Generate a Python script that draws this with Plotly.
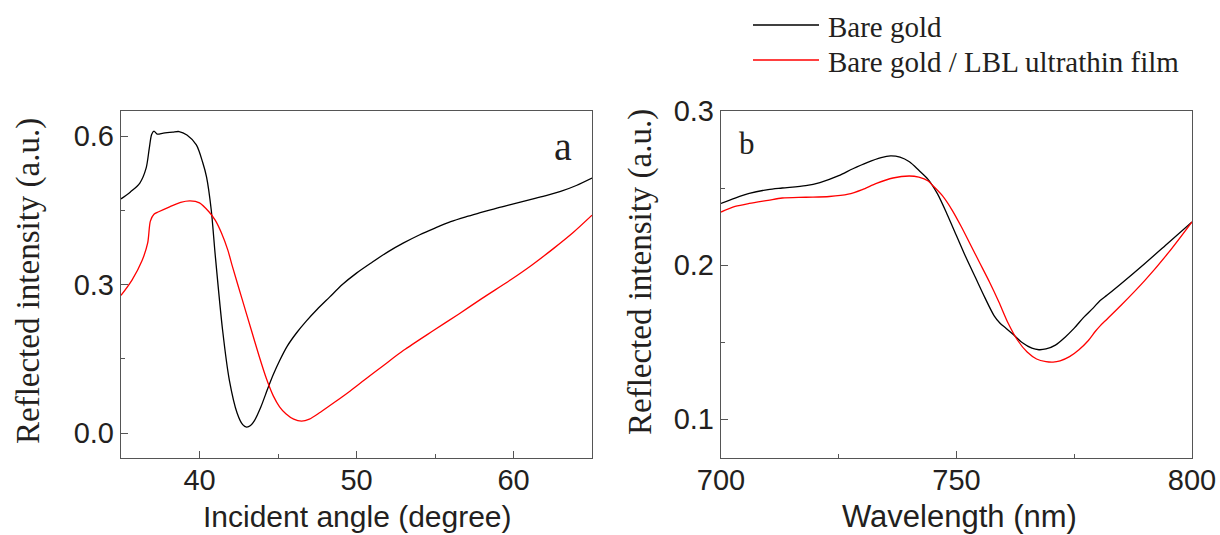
import plotly.graph_objects as go
from plotly.subplots import make_subplots

# Panel a: reflected intensity vs incident angle (degree)
angle_bare = [35.0, 35.6, 36.2, 36.6, 36.8, 36.95, 37.1, 37.3, 37.7, 38.3, 38.7, 39.2,
              39.8, 40.2, 40.45, 40.75, 41.0, 41.47, 41.9, 42.4, 42.75, 43.0,
              43.25, 43.5, 43.9, 44.35, 44.7, 45.1, 45.6, 46.2, 46.8, 47.5, 48.3, 49.1,
              50.0, 51.0, 52.0, 53.0, 54.0, 55.0, 56.0, 57.0, 58.0, 59.0, 60.0, 61.0,
              62.0, 63.0, 64.0, 65.0]
refl_bare = [0.473, 0.487, 0.505, 0.535, 0.575, 0.603, 0.610, 0.604, 0.606, 0.608, 0.609, 0.602,
             0.582, 0.547, 0.517, 0.450, 0.360, 0.208, 0.107, 0.040, 0.017, 0.012,
             0.015, 0.025, 0.052, 0.090, 0.118, 0.146, 0.176, 0.203, 0.226, 0.250, 0.275, 0.300,
             0.323, 0.345, 0.366, 0.384, 0.400, 0.414, 0.427, 0.437, 0.446, 0.455, 0.463, 0.471,
             0.479, 0.488, 0.500, 0.515]

angle_film = [35.0, 35.7, 36.35, 36.7, 36.87, 37.1, 37.4, 38.1, 38.8, 39.4, 40.0, 40.6,
              41.0, 41.4, 41.8, 42.1, 42.7, 43.3, 43.8, 44.26, 44.7, 45.1, 45.5, 46.0,
              46.5, 47.0, 47.7, 48.6, 49.6, 50.5, 51.7, 53.0, 54.9, 56.5, 58.0, 59.8,
              61.2, 62.6, 63.8, 65.0]
refl_film = [0.278, 0.309, 0.349, 0.384, 0.428, 0.442, 0.447, 0.457, 0.466, 0.469, 0.465, 0.447,
             0.430, 0.404, 0.370, 0.336, 0.272, 0.208, 0.155, 0.110, 0.075, 0.053, 0.039, 0.028,
             0.024, 0.028, 0.042, 0.062, 0.085, 0.107, 0.136, 0.167, 0.207, 0.240, 0.272, 0.309,
             0.340, 0.374, 0.405, 0.440]

# Panel b: reflected intensity vs wavelength (nm)
wl_bare = [700, 703, 706, 710, 713, 718, 721, 725, 728, 731, 734, 736, 738, 740, 742, 744,
           746, 748, 750, 752, 754, 756, 758, 759.3, 760.5, 762, 764, 766, 767.5, 769, 771,
           773, 775, 777, 779, 780.5, 782, 785, 790, 795, 800]
int_bare = [0.240, 0.2435, 0.2465, 0.249, 0.250, 0.2515, 0.2535, 0.258, 0.2625, 0.2665, 0.2697,
            0.2708, 0.270, 0.267, 0.2615, 0.2555, 0.246, 0.233, 0.219, 0.205, 0.192, 0.179,
            0.167, 0.162, 0.159, 0.155, 0.1495, 0.146, 0.145, 0.1455, 0.148, 0.153, 0.159,
            0.166, 0.172, 0.177, 0.1805, 0.188, 0.201, 0.2145, 0.228]

wl_film = [700, 703, 706, 710, 713, 718, 723, 727, 730, 733, 736.5, 740, 742, 744, 745, 747,
           749, 751, 753, 755, 757, 759, 761, 763, 765, 767, 769, 770.5, 772, 774, 776, 778,
           779.5, 780.5, 782, 785, 790, 795, 800]
int_film = [0.2344, 0.238, 0.240, 0.242, 0.2435, 0.244, 0.2445, 0.246, 0.249, 0.253, 0.2565,
            0.2578, 0.257, 0.2545, 0.2515, 0.245, 0.236, 0.225, 0.213, 0.201, 0.189, 0.176,
            0.162, 0.151, 0.1435, 0.139, 0.1373, 0.137, 0.1378, 0.1405, 0.145, 0.151, 0.157,
            0.1605, 0.165, 0.174, 0.190, 0.208, 0.228]

series_names = ["Bare gold", "Bare gold / LBL ultrathin film"]
series_colors = ["#000000", "#ff0000"]

W, H = 1220, 535
SANS = "Liberation Sans, Arial, sans-serif"
SERIF = "Liberation Serif, Times New Roman, serif"
INK = "#231f20"
FRAME = "#555555"


def px_x(v):
    return v / W


def px_y(v):
    return (H - v) / H


fig = make_subplots(rows=1, cols=2)

line_w = 1.3
curve_sets = [
    (angle_bare, refl_bare, 0, 1),
    (angle_film, refl_film, 1, 1),
    (wl_bare, int_bare, 0, 2),
    (wl_film, int_film, 1, 2),
]
for xs, ys, k, col in curve_sets:
    fig.add_trace(go.Scatter(x=xs, y=ys, mode="lines", name=series_names[k],
                             line=dict(color=series_colors[k], width=line_w,
                                       shape="spline", smoothing=0.8),
                             showlegend=False), row=1, col=col)

axis_common = dict(
    showgrid=False, zeroline=False, showline=True, linecolor=FRAME, linewidth=1.4,
    mirror=True, ticks="inside", ticklen=7, tickwidth=1.2, tickcolor=FRAME,
    tickfont=dict(family=SANS, size=29, color=INK), automargin=False,
)
minor_common = dict(ticks="inside", ticklen=4, tickwidth=1.2, tickcolor=FRAME, showgrid=False)

y_dom = [px_y(458), px_y(111)]

fig.update_layout(
    width=W, height=H,
    margin=dict(l=0, r=0, t=0, b=0, autoexpand=False),
    paper_bgcolor="white", plot_bgcolor="white",
    xaxis=dict(axis_common, domain=[px_x(121), px_x(592)], range=[35, 65],
               tickvals=[40, 50, 60], ticklabelstandoff=-4,
               minor=dict(minor_common, tickvals=[45, 55])),
    yaxis=dict(axis_common, domain=y_dom, range=[-0.0505, 0.6505],
               tickvals=[0.0, 0.3, 0.6], ticktext=["0.0", "0.3", "0.6"],
               minor=dict(minor_common, tickvals=[0.15, 0.45])),
    xaxis2=dict(axis_common, domain=[px_x(721), px_x(1192)], range=[700, 800],
                tickvals=[700, 750, 800], ticklabelstandoff=-4,
                minor=dict(minor_common, tickvals=[725, 775])),
    yaxis2=dict(axis_common, domain=y_dom, range=[0.0747, 0.3],
                tickvals=[0.1, 0.2, 0.3], ticktext=["0.1", "0.2", "0.3"],
                minor=dict(minor_common, tickvals=[0.15, 0.25])),
)

annotations = [
    # axis titles
    dict(text="Incident angle (degree)", x=px_x(357), y=px_y(516),
         font=dict(family=SANS, size=30, color=INK)),
    dict(text="Wavelength (nm)", x=px_x(959), y=px_y(516),
         font=dict(family=SANS, size=31, color=INK)),
    dict(text="Reflected intensity (a.u.)", x=px_x(28), y=px_y(281), textangle=-90,
         font=dict(family=SERIF, size=33, color=INK)),
    dict(text="Reflected intensity (a.u.)", x=px_x(640), y=px_y(272), textangle=-90,
         font=dict(family=SERIF, size=33, color=INK)),
    # panel labels
    dict(text="a", x=px_x(563), y=px_y(146), font=dict(family=SERIF, size=40, color=INK)),
    dict(text="b", x=px_x(747), y=px_y(143), font=dict(family=SERIF, size=31, color=INK)),
]
for a in annotations:
    a.update(xref="paper", yref="paper", showarrow=False, xanchor="center", yanchor="middle")

# legend: swatch lines with labels
legend_rows = [25, 60]
shapes = []
for name, color, yy in zip(series_names, series_colors, legend_rows):
    shapes.append(dict(type="line", xref="paper", yref="paper",
                       x0=px_x(753), x1=px_x(819), y0=px_y(yy), y1=px_y(yy),
                       line=dict(color=color, width=1.6)))
    annotations.append(dict(text=name, xref="paper", yref="paper", showarrow=False,
                            x=px_x(826), y=px_y(yy + 2), xanchor="left", yanchor="middle",
                            font=dict(family=SERIF, size=29, color=INK)))

fig.update_layout(annotations=annotations, shapes=shapes)

fig.write_html("out.html")
